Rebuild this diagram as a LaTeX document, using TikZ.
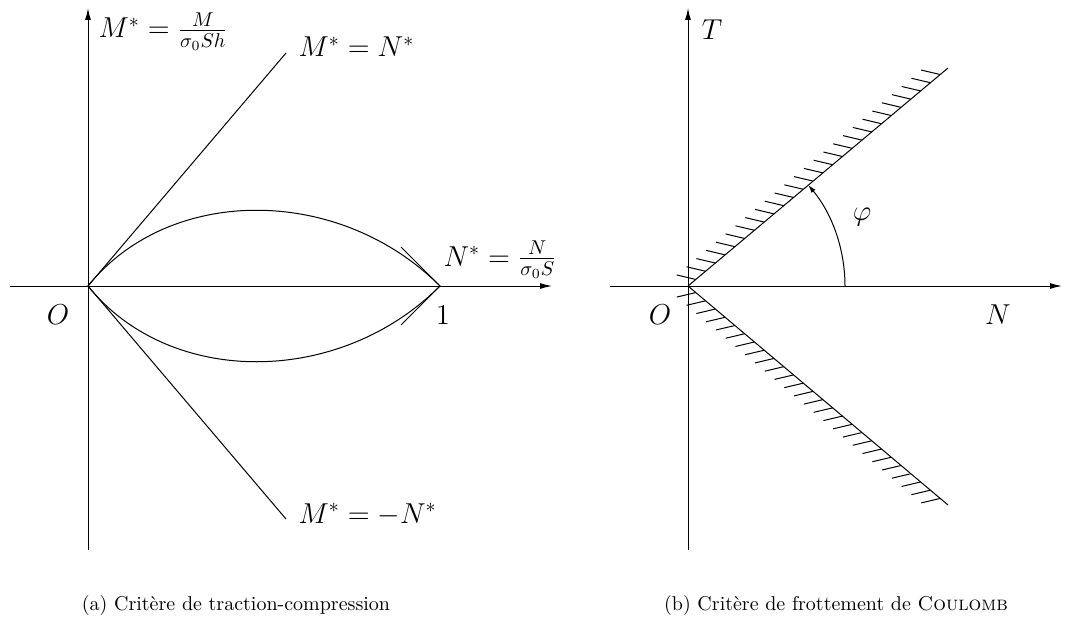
\documentclass[tikz,border=0pt]{standalone}
\usetikzlibrary{arrows.meta,calc}
\begin{document}
\begin{tikzpicture}[x=0.5pt,y=-0.5pt,
  line width=0.5pt,
  axis/.style={-{Latex[length=6pt,width=3pt]}},
  hatch/.style={line width=0.5pt},
  lab/.style={inner sep=0pt,font=\Large},
  captxt/.style={inner sep=0pt,font=\normalsize}]
\useasboundingbox (0,0) rectangle (1076,631);
% ---------- (a) ----------
\coordinate (xa0) at (10,286); \coordinate (xa1) at (552,286);
\coordinate (ya0) at (88,550); \coordinate (ya1) at (88,8);
\coordinate (O1) at (88,286); \coordinate (E1) at (440,286);
\coordinate (U1) at (286,53); \coordinate (L1) at (286,519);
\coordinate (t1) at (401,247); \coordinate (t2) at (401,325);
\draw[axis] (xa0) -- (xa1);
\draw[axis] (ya0) -- (ya1);
\draw (O1) -- (U1);
\draw (O1) -- (L1);
\draw (O1) .. controls (169,185) and (339,185) .. (E1);
\draw (O1) .. controls (169,387) and (339,387) .. (E1);
\draw (t1) -- (E1);
\draw (t2) -- (E1);
\node[lab,anchor=base west] (lm) at (98,38) {$M^*=\frac{M}{\sigma_0Sh}$};
\node[lab,anchor=base west] (lmn) at (298,57) {$M^*=N^*$};
\node[lab,anchor=base west] (ln) at (443,266) {$N^*=\frac{N}{\sigma_0S}$};
\node[lab] (l1) at (443,315) {$1$};
\node[lab] (lO1) at (58,315) {$O$};
\node[lab,anchor=base west] (lmmn) at (298,523) {$M^*=-N^*$};
% ---------- (b) ----------
\coordinate (xb0) at (610,286); \coordinate (xb1) at (1062,286);
\coordinate (yb0) at (688,550); \coordinate (yb1) at (688,8);
\coordinate (O2) at (688,286); \coordinate (A2) at (948,68); \coordinate (B2) at (948,505);
\coordinate (phi0) at (845,286);
\draw[axis] (xb0) -- (xb1);
\draw[axis] (yb0) -- (yb1);
\draw (O2) -- (A2);
\draw (O2) -- (B2);
\foreach \k [evaluate=\k as \t using 0.03+\k*0.0376] in {0,...,25}{
  \draw[hatch] ($(O2)!\t!(A2)$) -- ++(-19,-4.5);
  \draw[hatch] ($(O2)!\t!(B2)$) -- ++(-19,4.5);
}
\draw[-{Latex[length=4pt,width=2.5pt]}] (phi0) arc[start angle=0,end angle=-40,radius=157];
\node[lab] (lT) at (712,30) {$T$};
\node[lab] (lphi) at (862,217) {$\varphi$};
\node[lab] (lO2) at (660,315) {$O$};
\node[lab] (lN) at (998,315) {$N$};
% captions
\node[captxt] (ca) at (236,605) {(a) Critère de traction-compression};
\node[captxt] (cb) at (836,605) {(b) Critère de frottement de \textsc{Coulomb}};
\end{tikzpicture}
\end{document}
